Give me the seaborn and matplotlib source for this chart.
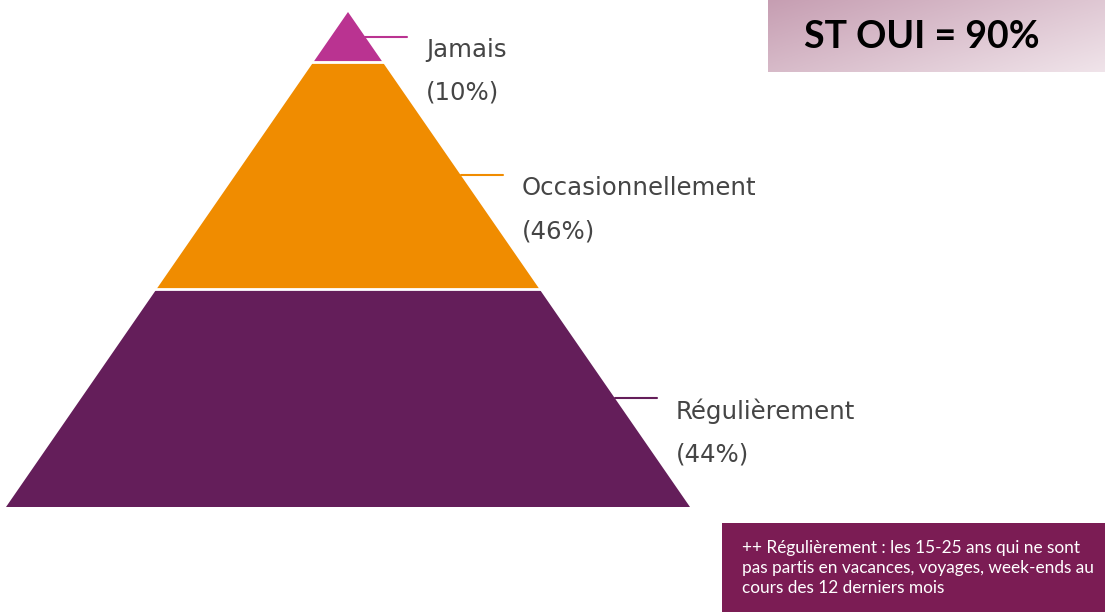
import numpy as np
import matplotlib
matplotlib.use("Agg")
import matplotlib.pyplot as plt
import seaborn as sns

# ---- data ----
categories = ["Jamais", "Occasionnellement", "Régulièrement"]
values = [10, 46, 44]
total_label = "ST OUI = 90%"
note_text = ("++ Régulièrement : les 15-25 ans qui ne sont\n"
             "pas partis en vacances, voyages, week-ends au\n"
             "cours des 12 derniers mois")

# ---- style ----
seg_colors = ["#BA3391", "#F08C00", "#641E5A"]
sns.set_theme(style="white")
plt.rcParams['font.family'] = ['DejaVu Sans']

W, H = 1105, 612
fig = plt.figure(figsize=(W / 100, H / 100), dpi=100)
ax = fig.add_axes([0, 0, 1, 1])
ax.set_xlim(0, W)
ax.set_ylim(H, 0)
ax.axis("off")

# pyramid layout (pixel space)
apex_x, apex_y = 348, 12
base_y = 507
half_base = 342
scale = (base_y - apex_y) / sum(values)

def half_width(y):
    return half_base * (y - apex_y) / (base_y - apex_y)

cum = apex_y
for cat, v, col in zip(categories, values, seg_colors):
    y0, y1 = cum, cum + v * scale
    xs = [apex_x - half_width(y0), apex_x + half_width(y0),
          apex_x + half_width(y1), apex_x - half_width(y1)]
    ys = [y0, y0, y1, y1]
    ax.fill(xs, ys, color=col, lw=0, zorder=2)
    if cum > apex_y:
        ax.plot([apex_x - half_width(y0) - 2, apex_x + half_width(y0) + 2], [y0, y0],
                color="white", lw=2, zorder=3)
    ym = (y0 + y1) / 2
    xe = apex_x + half_width(ym)
    ax.plot([xe, xe + 42], [ym, ym], color=col, lw=1.5, zorder=3)
    ax.text(xe + 61, ym + 34.5, f"{cat}\n({v}%)", fontsize=17.6, color="#454545",
            va="center", ha="left", linespacing=2.0, zorder=4)
    cum = y1

# top box with gradient
grad = np.linspace(0, 1, 256)
gx, gy = np.meshgrid(grad, np.linspace(0, 1, 64))
t = np.clip(0.6 * gx + 0.4 * gy, 0, 1)
c0 = np.array([198, 158, 178]) / 255
c1 = np.array([240, 228, 234]) / 255
img = c0[None, None, :] * (1 - t[..., None]) + c1[None, None, :] * t[..., None]
ax.imshow(img, extent=[768, 1105, 72, 0], aspect="auto", zorder=1)
ax.text(922, 37, total_label, fontsize=27, fontweight="bold", color="black",
        ha="center", va="center", family=["Lato", "DejaVu Sans"], zorder=4)

# bottom note box
ax.add_patch(plt.Rectangle((722, 523), W - 722, H - 523, color="#7B1C54", lw=0, zorder=1))
ax.text(742, 568, note_text, fontsize=12.4, color="white", ha="left", va="center",
        linespacing=1.3, family=["Lato", "DejaVu Sans"], zorder=4)

fig.savefig("out.png", dpi=100)
